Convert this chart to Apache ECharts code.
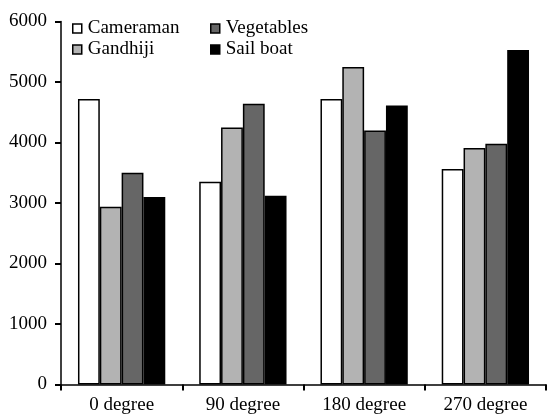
<!DOCTYPE html>
<html>
<head>
<meta charset="utf-8">
<script src="https://cdn.jsdelivr.net/npm/echarts@6/dist/echarts.min.js"></script>
<style>
  html, body { margin: 0; padding: 0; background: #fff; }
  #chart { width: 550px; height: 415px; }
</style>
</head>
<body>
<div id="chart"></div>
<script>
var categories = ['0 degree', '90 degree', '180 degree', '270 degree']
var cameraman = [4720, 3350, 4720, 3560]
var gandhiji = [2940, 4250, 5250, 3910]
var vegetables = [3500, 4640, 4200, 3980]
var sailBoat = [3100, 3120, 4610, 5530]

var font = 'Liberation Serif'

function barSeries(name, data, color) {
  return {
    name: name,
    type: 'bar',
    data: data,
    barGap: 0,
    barCategoryGap: '28%',
    itemStyle: { color: color, borderColor: '#000', borderWidth: 1.5 }
  }
}

function legendBox(left, names) {
  return {
    left: left,
    top: 19,
    orient: 'vertical',
    itemGap: 2,
    itemWidth: 9,
    itemHeight: 9,
    icon: 'rect',
    padding: 0,
    data: names,
    textStyle: { fontFamily: font, fontSize: 19, color: '#000', padding: [0, 0, 0, 1] },
    itemStyle: { borderColor: '#000', borderWidth: 1.5 }
  }
}

var option = {
  animation: false,
  backgroundColor: '#fff',
  legend: [
    legendBox(72, ['Cameraman', 'Gandhiji']),
    legendBox(210, ['Vegetables', 'Sail boat'])
  ],
  grid: { left: 61, right: 4, top: 21.5, bottom: 30.5 },
  xAxis: {
    type: 'category',
    data: categories,
    axisLine: { lineStyle: { color: '#000', width: 1.5 } },
    axisTick: { show: true, length: 6, lineStyle: { color: '#000', width: 2 } },
    axisLabel: { fontFamily: font, fontSize: 19, color: '#000', margin: 11 }
  },
  yAxis: {
    type: 'value',
    min: 0,
    max: 6000,
    interval: 1000,
    splitLine: { show: false },
    axisLine: { show: true, lineStyle: { color: '#000', width: 1.5 } },
    axisTick: { show: true, length: 6, lineStyle: { color: '#000', width: 2 } },
    axisLabel: {
      fontFamily: font, fontSize: 19, color: '#000', margin: 14,
      formatter: function (v) { return String(v) }
    }
  },
  series: [
    barSeries('Cameraman', cameraman, '#ffffff'),
    barSeries('Gandhiji', gandhiji, '#b3b3b3'),
    barSeries('Vegetables', vegetables, '#666666'),
    barSeries('Sail boat', sailBoat, '#000000')
  ]
}

echarts.init(document.getElementById('chart')).setOption(option)
</script>
</body>
</html>
